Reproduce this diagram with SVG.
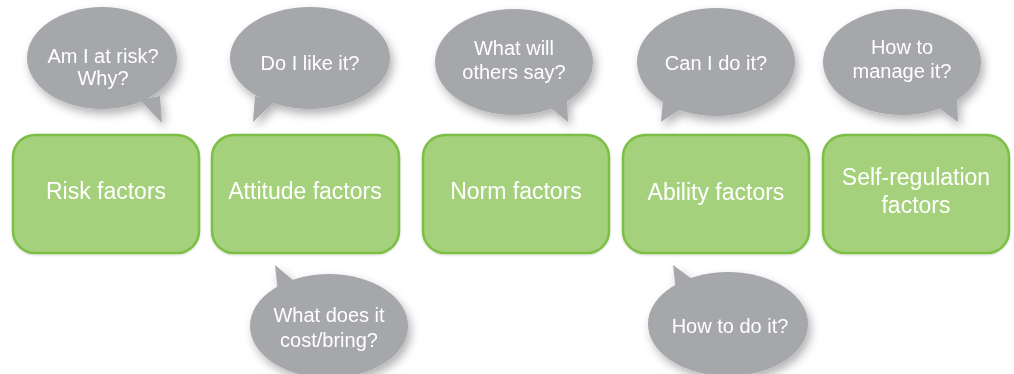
<svg xmlns="http://www.w3.org/2000/svg" width="1014" height="374" viewBox="0 0 1014 374">
<defs>
<filter id="sh" x="-30%" y="-30%" width="160%" height="170%">
<feDropShadow dx="3" dy="5" stdDeviation="5" flood-color="#000" flood-opacity="0.3"/>
</filter>
<filter id="bsh" x="-10%" y="-10%" width="120%" height="130%">
<feDropShadow dx="0" dy="1" stdDeviation="1" flood-color="#000" flood-opacity="0.15"/>
</filter>
</defs>
<style>
.bub{fill:#a6a7ab}
.box{fill:#a6d17c;stroke:#7cbf45;stroke-width:2.5}
.bt{font-family:"Liberation Sans",Arial,sans-serif;font-size:20px;fill:#fff;text-anchor:middle}
.xt{font-family:"Liberation Sans",Arial,sans-serif;font-size:23px;fill:#fff;text-anchor:middle}
</style>
<rect width="1014" height="374" fill="#fff"/>
<g id="connectors"></g>
<g id="bubble-risk" filter="url(#sh)">
<ellipse class="bub" cx="102" cy="58" rx="75" ry="51"/>
<path class="bub" d="M140,100 L162,123 L160,96 Z"/>
<text class="bt" x="103" y="63">Am I at risk?</text>
<text class="bt" x="103" y="85">Why?</text>
</g>
<g id="bubble-attitude" filter="url(#sh)">
<ellipse class="bub" cx="310" cy="58" rx="80" ry="51"/>
<path class="bub" d="M255,96 L253,122 L274,102 Z"/>
<text class="bt" x="310" y="70">Do I like it?</text>
</g>
<g id="bubble-norm" filter="url(#sh)">
<ellipse class="bub" cx="514" cy="62" rx="79" ry="53"/>
<path class="bub" d="M548,106 L568,122 L567,98 Z"/>
<text class="bt" x="514" y="55">What will</text>
<text class="bt" x="514" y="79">others say?</text>
</g>
<g id="bubble-ability" filter="url(#sh)">
<ellipse class="bub" cx="716" cy="62" rx="79" ry="54"/>
<path class="bub" d="M663,100 L661,122 L682,108 Z"/>
<text class="bt" x="716" y="70">Can I do it?</text>
</g>
<g id="bubble-selfreg" filter="url(#sh)">
<ellipse class="bub" cx="902" cy="62" rx="79" ry="53"/>
<path class="bub" d="M936,106 L958,122 L957,98 Z"/>
<text class="bt" x="902" y="54">How to</text>
<text class="bt" x="902" y="78">manage it?</text>
</g>
<g id="bubble-cost" filter="url(#sh)">
<ellipse class="bub" cx="329" cy="326" rx="79" ry="52"/>
<path class="bub" d="M275,265 L278,292 L294,281 Z"/>
<text class="bt" x="329" y="322">What does it</text>
<text class="bt" x="329" y="347">cost/bring?</text>
</g>
<g id="bubble-howto" filter="url(#sh)">
<ellipse class="bub" cx="728" cy="324" rx="80" ry="52"/>
<path class="bub" d="M673,265 L676,291 L692,279 Z"/>
<text class="bt" x="730" y="333">How to do it?</text>
</g>
<g id="node-risk" filter="url(#bsh)">
<rect class="box" x="13" y="135" width="186" height="118" rx="22"/>
<text class="xt" x="106" y="199">Risk factors</text>
</g>
<g id="node-attitude" filter="url(#bsh)">
<rect class="box" x="212" y="135" width="187" height="118" rx="22"/>
<text class="xt" x="305" y="199">Attitude factors</text>
</g>
<g id="node-norm" filter="url(#bsh)">
<rect class="box" x="423" y="135" width="186" height="118" rx="22"/>
<text class="xt" x="516" y="199">Norm factors</text>
</g>
<g id="node-ability" filter="url(#bsh)">
<rect class="box" x="623" y="135" width="186" height="118" rx="22"/>
<text class="xt" x="716" y="200">Ability factors</text>
</g>
<g id="node-selfreg" filter="url(#bsh)">
<rect class="box" x="823" y="135" width="186" height="118" rx="22"/>
<text class="xt" x="916" y="185">Self-regulation</text>
<text class="xt" x="916" y="213">factors</text>
</g>
</svg>
